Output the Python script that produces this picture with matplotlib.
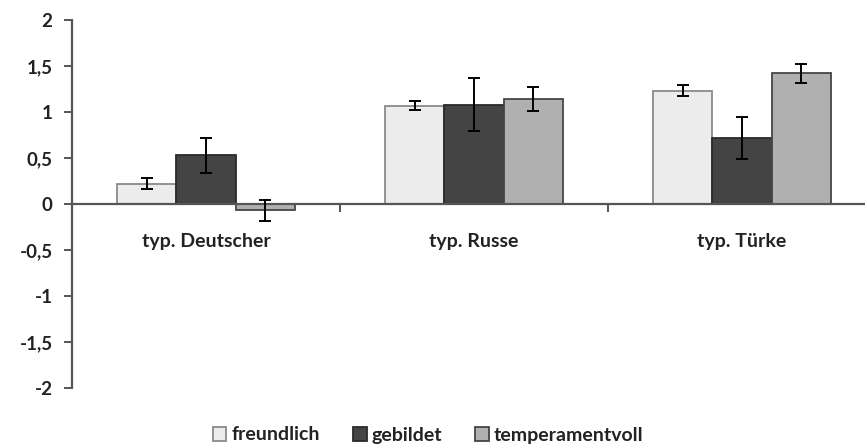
import numpy as np
import matplotlib
matplotlib.use("Agg")
import matplotlib.pyplot as plt

categories = ["typ. Deutscher", "typ. Russe", "typ. Türke"]
series = ["freundlich", "gebildet", "temperamentvoll"]
freundlich = [0.22, 1.07, 1.23]
gebildet = [0.53, 1.08, 0.72]
temperamentvoll = [-0.07, 1.14, 1.42]
err_freundlich = [0.06, 0.05, 0.06]
err_gebildet = [0.19, 0.29, 0.23]
err_temperamentvoll = [0.11, 0.13, 0.10]
yticks = [-2, -1.5, -1, -0.5, 0, 0.5, 1, 1.5, 2]

plt.rcParams['font.family'] = ['Lato', 'DejaVu Sans']
plt.rcParams['font.weight'] = 'bold'

fig = plt.figure(figsize=(8.65, 4.47), dpi=100)
ax = fig.add_axes([72 / 865, 1 - 388 / 447, 804 / 865, 368 / 447])

values = [freundlich, gebildet, temperamentvoll]
errors = [err_freundlich, err_gebildet, err_temperamentvoll]
faces = ["#ececec", "#444444", "#b0b0b0"]
edges = ["#8a8a8a", "#2a2a2a", "#454545"]
x = np.arange(len(categories))
w = 0.222
for i in range(3):
    ax.bar(x + (i - 1) * w, values[i], width=w, color=faces[i], edgecolor=edges[i],
           linewidth=1.3, label=series[i], zorder=2)
    ax.errorbar(x + (i - 1) * w, values[i], yerr=errors[i], fmt='none', ecolor='black',
                elinewidth=1.4, capsize=4.5, capthick=1.4, zorder=3)

ax.set_xlim(-0.5, 2.5)
ax.set_ylim(-2, 2)
ax.set_yticks(yticks)
ax.set_yticklabels([f"{v:g}".replace(".", ",") for v in yticks], fontsize=13.5, color="#222222")
ax.tick_params(axis='y', length=6, width=1.4, color="#555555", pad=8)

ax.spines['top'].set_visible(False)
ax.spines['right'].set_visible(False)
ax.spines['left'].set_color("#555555")
ax.spines['left'].set_linewidth(1.6)
ax.spines['bottom'].set_position(('data', 0))
ax.spines['bottom'].set_color("#555555")
ax.spines['bottom'].set_linewidth(1.6)
ax.set_xticks([0.5, 1.5, 2.5])
ax.set_xticklabels([])
ax.tick_params(axis='x', length=6, width=1.4, color="#555555", direction='out')

for xi, c in zip(x, categories):
    ax.annotate(c, xy=(xi, 0), xytext=(0, -37), textcoords='offset pixels',
                ha='center', va='center', fontsize=14, color="#222222")

fig.legend(loc='center', bbox_to_anchor=(428 / 865, 1 - 435 / 447), ncol=3, frameon=False,
           fontsize=14, handlelength=0.7, handleheight=0.7, handletextpad=0.25,
           columnspacing=1.7, labelcolor="#222222")

fig.savefig("out.png", dpi=100)
